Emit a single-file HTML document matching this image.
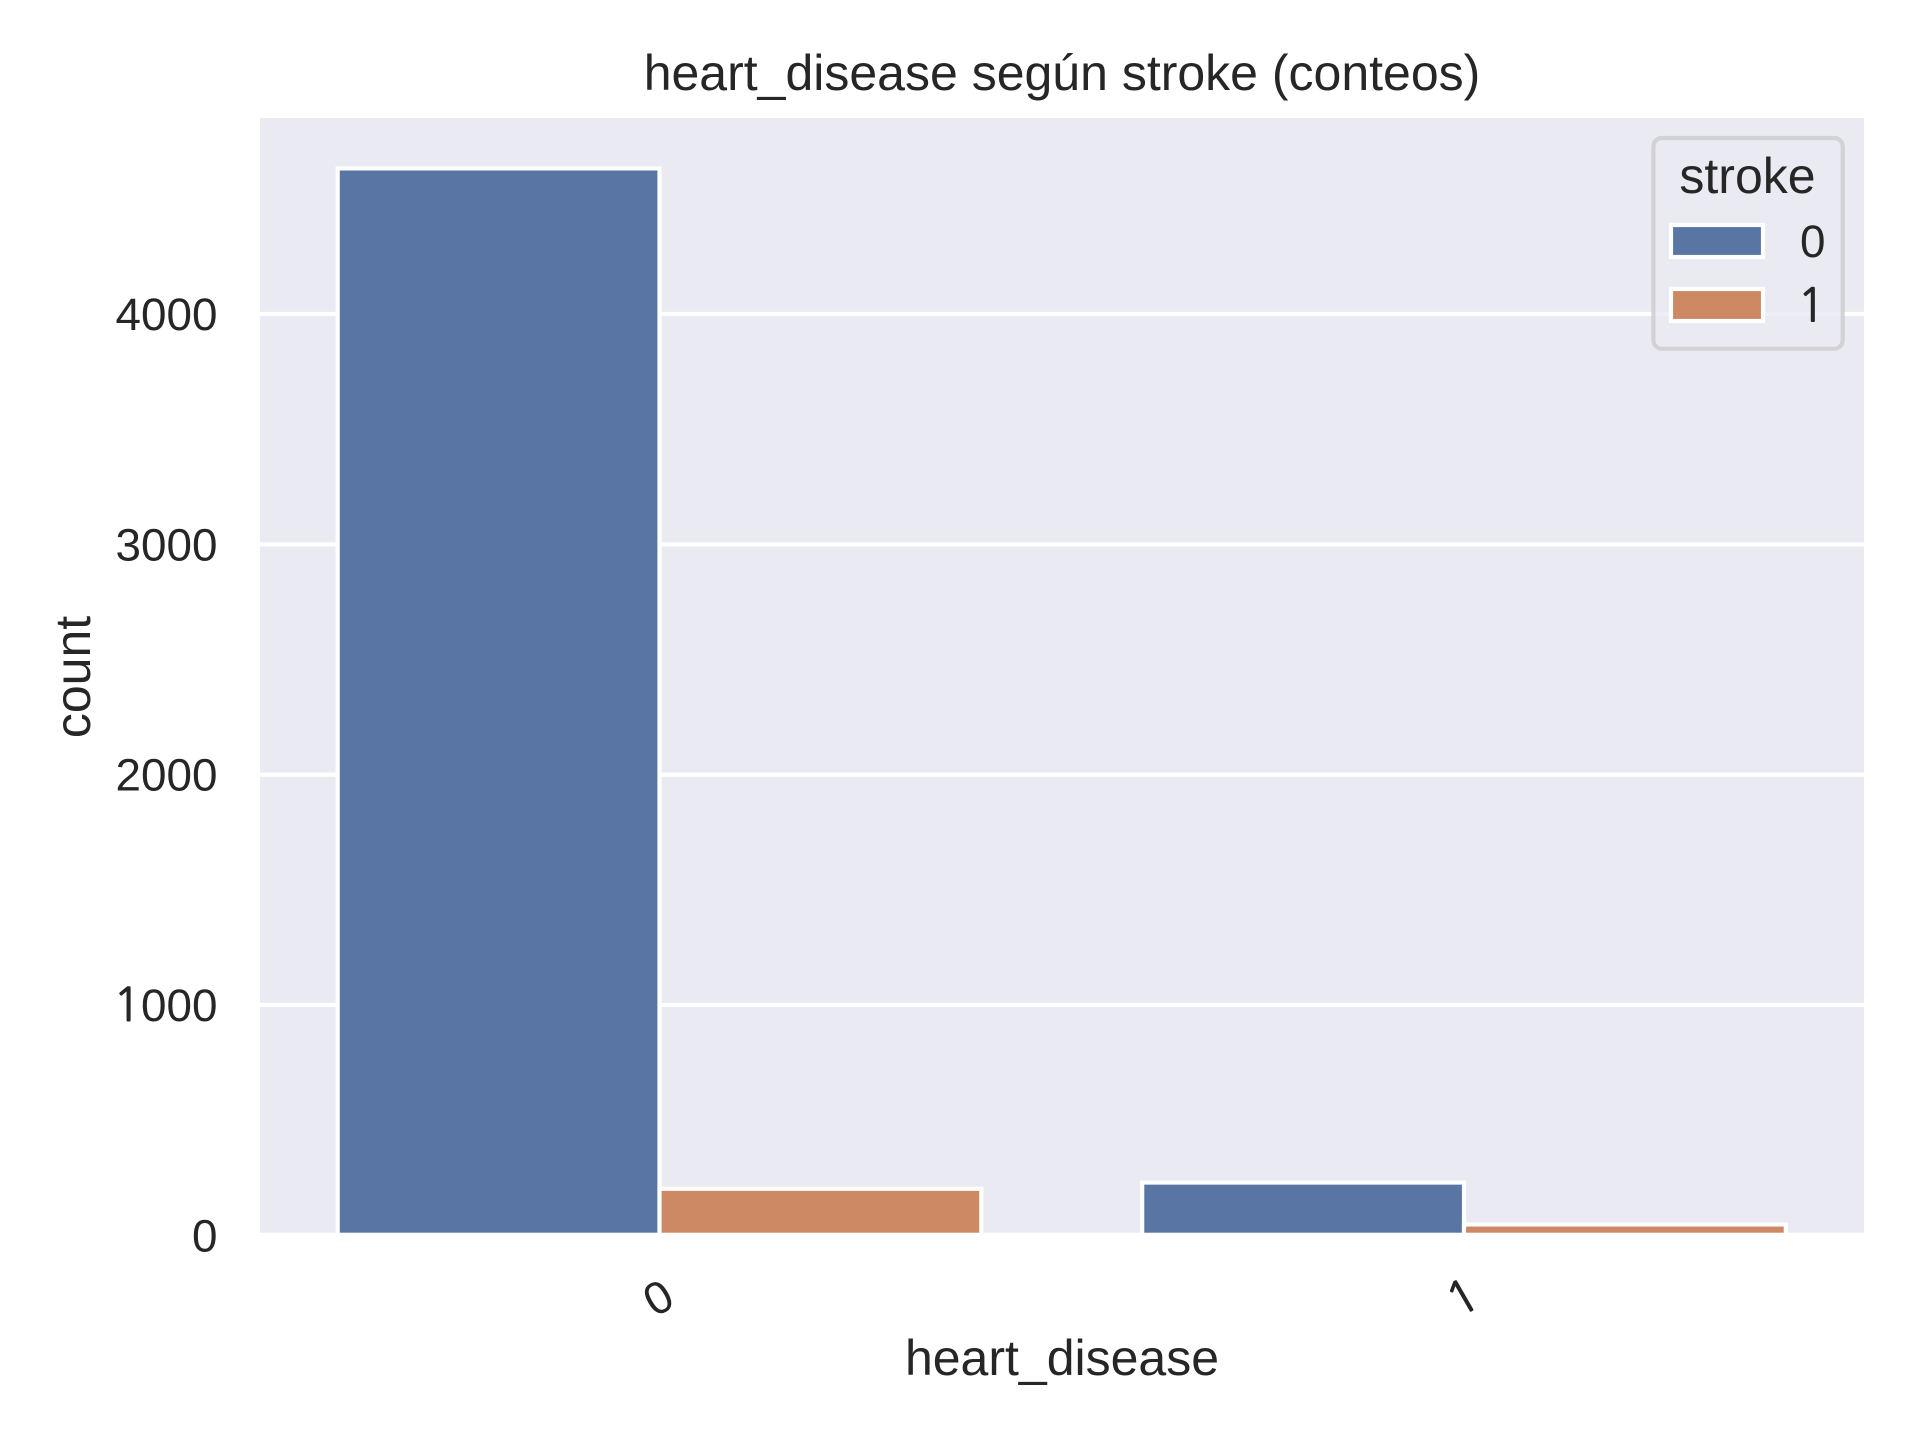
<!DOCTYPE html>
<html lang="es">
<head>
<meta charset="utf-8">
<title>heart_disease según stroke (conteos)</title>
<style>
html,body{margin:0;padding:0;background:#fff;}
svg{display:block;}
text{font-family:"Liberation Sans",Arial,sans-serif;fill:#262626;}
tspan.one{font-family:"NanumGothic","Liberation Sans",sans-serif;stroke:#262626;stroke-width:0.9;}
</style>
</head>
<body>
<svg id="chart" xmlns="http://www.w3.org/2000/svg" width="1920" height="1440" viewBox="0 0 1920 1440">
  <rect x="0" y="0" width="1920" height="1440" fill="#ffffff"/>
  <rect x="257.4" y="115.4" width="1609.2" height="1119.9" fill="#eaeaf2"/>
  <g id="grid"></g>
  <g id="bars"></g>
  <g fill="none" stroke="#ffffff" stroke-width="5.2">
    <rect x="257.4" y="115.4" width="1609.2" height="1119.9"/>
  </g>
  <g id="yticks"></g>
  <g id="xticks"></g>
  <text x="1062" y="90" font-size="50" text-anchor="middle">heart_disease según stroke (conteos)</text>
  <text x="1062" y="1375" font-size="50" text-anchor="middle">heart_disease</text>
  <text transform="translate(90 677) rotate(-90)" font-size="50" text-anchor="middle">count</text>
  <g>
    <rect x="1653.4" y="138" width="189.3" height="210.7" rx="8.5" ry="8.5" fill="#eaeaf2" fill-opacity="0.8" stroke="#cccccc" stroke-opacity="0.8" stroke-width="4.17"/>
    <text x="1747.5" y="193" font-size="50" text-anchor="middle">stroke</text>
    <rect x="1671" y="225" width="92" height="32" fill="#5975a4" stroke="#ffffff" stroke-width="4.17"/>
    <text x="1800" y="257" font-size="45.83">0</text>
    <rect x="1671" y="289" width="92" height="32" fill="#cc8963" stroke="#ffffff" stroke-width="4.17"/>
    <text x="1797.5" y="321.5" font-size="45.83"><tspan class="one">1</tspan></text>
  </g>
</svg>
<script>
const categories = ["0", "1"];
const stroke0Counts = [4632, 229];
const stroke1Counts = [202, 47];
const yTickValues = [0, 1000, 2000, 3000, 4000];

const SVGNS = "http://www.w3.org/2000/svg";
const yZeroPx = 1235.3;
const pxPerCount = 0.23033;
const xFirstPx = 659.5;
const pxPerCategory = 804.5;
const barWidth = 0.4;
const plotLeft = 257.4;
const plotRight = 1866.6;

function yScale(v) { return yZeroPx - v * pxPerCount; }
function xScale(v) { return xFirstPx + v * pxPerCategory; }

// Puts the text into a label, drawing each digit 1 in a footless face.
function setLabelText(el, str) {
  str.split("").forEach(function (ch) {
    if (ch === "1") {
      const span = document.createElementNS(SVGNS, "tspan");
      span.setAttribute("class", "one");
      span.textContent = ch;
      el.appendChild(span);
    } else {
      el.appendChild(document.createTextNode(ch));
    }
  });
}

const gridGroup = document.getElementById("grid");
const yTickGroup = document.getElementById("yticks");
yTickValues.forEach(function (tick) {
  const line = document.createElementNS(SVGNS, "line");
  
  
  line.setAttribute("x1", plotLeft);
  line.setAttribute("x2", plotRight);
  line.setAttribute("y1", yScale(tick));
  line.setAttribute("y2", yScale(tick));
  line.setAttribute("stroke", "#ffffff");
  line.setAttribute("stroke-width", "4.17");
  gridGroup.appendChild(line);

  const label = document.createElementNS(SVGNS, "text");
  
  
  label.setAttribute("x", 217.5);
  label.setAttribute("y", yScale(tick) + 16);
  label.setAttribute("font-size", "45.83");
  label.setAttribute("text-anchor", "end");
  setLabelText(label, String(tick));
  yTickGroup.appendChild(label);
});

const barGroup = document.getElementById("bars");
function drawBar(catIndex, offset, value, color, name) {
  const rect = document.createElementNS(SVGNS, "rect");
  
  
  rect.setAttribute("x", xScale(catIndex + offset));
  rect.setAttribute("width", barWidth * pxPerCategory);
  rect.setAttribute("y", yScale(value));
  rect.setAttribute("height", yZeroPx - yScale(value));
  rect.setAttribute("fill", color);
  rect.setAttribute("stroke", "#ffffff");
  rect.setAttribute("stroke-width", "4.17");
  barGroup.appendChild(rect);
}
categories.forEach(function (cat, i) {
  drawBar(i, -barWidth, stroke0Counts[i], "#5975a4", "bar-stroke-0-heart-disease-" + cat);
  drawBar(i, 0, stroke1Counts[i], "#cc8963", "bar-stroke-1-heart-disease-" + cat);
});

const xTickGroup = document.getElementById("xticks");
categories.forEach(function (cat, i) {
  const label = document.createElementNS(SVGNS, "text");
  
  
  label.setAttribute("transform", "translate(" + (xScale(i) - 1.5) + " 1297.5) rotate(-30)");
  label.setAttribute("y", 16);
  label.setAttribute("font-size", "45.83");
  label.setAttribute("text-anchor", "middle");
  setLabelText(label, cat);
  xTickGroup.appendChild(label);
});
</script>
</body>
</html>
